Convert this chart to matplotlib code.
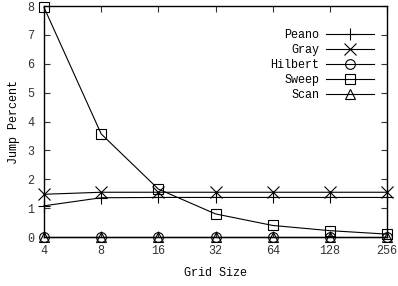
import numpy as np
import matplotlib.pyplot as plt

grid = [4, 8, 16, 32, 64, 128, 256]
peano = [1.08, 1.36, 1.37, 1.37, 1.37, 1.37, 1.37]
gray = [1.48, 1.55, 1.55, 1.55, 1.55, 1.55, 1.55]
hilbert = [0, 0, 0, 0, 0, 0, 0]
sweep = [7.95, 3.57, 1.66, 0.8, 0.4, 0.22, 0.1]
scan = [0, 0, 0, 0, 0, 0, 0]

plt.rcParams['font.family'] = ['Liberation Mono', 'DejaVu Sans Mono']
plt.rcParams['font.size'] = 8.5

fig = plt.figure(figsize=(3.98, 2.86), dpi=100)
ax = fig.add_axes([0.1106, 0.1713, 0.8618, 0.8077])

kw = dict(color='black', lw=0.8, markerfacecolor='none', markeredgecolor='black',
          markeredgewidth=0.8, markersize=8, clip_on=False)
ax.plot(grid, peano, marker='+', label='Peano', **kw)
ax.plot(grid, gray, marker='x', label='Gray', **kw)
ax.plot(grid, hilbert, marker='o', label='Hilbert', **{**kw, 'markersize': 7})
ax.plot(grid, sweep, marker='s', label='Sweep', **{**kw, 'markersize': 7})
ax.plot(grid, scan, marker='^', label='Scan', **{**kw, 'markersize': 7})

ax.set_xscale('log', base=2)
ax.set_xlim(4, 256)
ax.set_ylim(0, 8)
ax.set_xticks(grid)
ax.set_xticklabels([str(g) for g in grid])
ax.minorticks_off()
ax.set_yticks(range(0, 9))
ax.tick_params(direction='in', top=True, right=True, length=4, width=0.8,
               colors='#333333', labelcolor='#333333')
ax.tick_params(axis='y', pad=7)
ax.tick_params(axis='x', pad=6)
for s in ax.spines.values():
    s.set_linewidth(1.0)

ax.set_xlabel('Grid Size', labelpad=7)
ax.set_ylabel('Jump Percent', labelpad=5)

ax.legend(loc='upper right', bbox_to_anchor=(0.975, 0.92), frameon=False,
          markerfirst=False, handlelength=4.0, handletextpad=0.6,
          labelspacing=0.25, borderaxespad=0)
for t in ax.get_legend().get_texts():
    t.set_ha('right')
    t.set_position((0, 0))

fig.savefig('out.png', dpi=100)
